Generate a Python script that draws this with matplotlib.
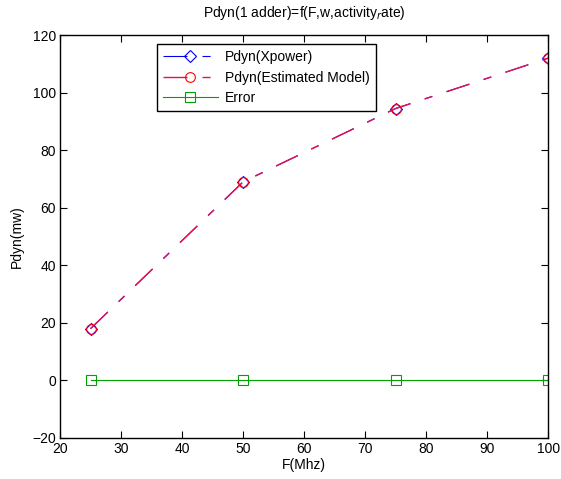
import matplotlib
matplotlib.use("Agg")
import matplotlib.pyplot as plt

freq = [25, 50, 75, 100]
pdyn_xpower = [18, 69, 94.5, 112]
pdyn_model = [18, 69, 94.5, 112]
error = [0, 0, 0, 0]
xticks = [20, 30, 40, 50, 60, 70, 80, 90, 100]
yticks = [-20, 0, 20, 40, 60, 80, 100, 120]

plt.rcParams['font.family'] = ['Liberation Sans', 'DejaVu Sans']
plt.rcParams['font.size'] = 10
plt.rcParams['lines.scale_dashes'] = False

fig = plt.figure(figsize=(5.61, 4.79), dpi=100)
ax = fig.add_axes([0.107, 0.0856, 0.870, 0.841])

dashdot = (0, (17.3, 10.8, 5.8, 10.8))
ax.plot(freq, pdyn_xpower, color='blue', linestyle=dashdot, linewidth=0.8,
        marker='D', markersize=6, markerfacecolor='none', markeredgecolor='blue',
        markeredgewidth=0.8, label='Pdyn(Xpower)')
ax.plot(freq, pdyn_model, color='#e8104a', linestyle=dashdot, linewidth=1.0,
        marker='o', markersize=7, markerfacecolor='none', markeredgecolor='red',
        markeredgewidth=0.8, label='Pdyn(Estimated Model)')
ax.plot(freq, error, color='#00a000', linestyle='-', linewidth=0.8,
        marker='s', markersize=7, markerfacecolor='none', markeredgecolor='#00a000',
        markeredgewidth=0.8, label='Error')

ax.set_xlim(20, 100)
ax.set_ylim(-20, 120)
ax.set_xticks(xticks)
ax.set_yticks(yticks)
ax.tick_params(direction='in', length=5, labelsize=10, top=True, right=True, pad=3)
for s in ax.spines.values():
    s.set_linewidth(1.0)

ax.set_xlabel('F(Mhz)', fontsize=10, labelpad=1)
ax.set_ylabel('Pdyn(mw)', fontsize=10, labelpad=6)
ax.set_title('Pdyn(1 adder)=f(F,w,activity$_r$ate)', fontsize=10, pad=13)

leg = ax.legend(loc='upper left', bbox_to_anchor=(0.199, 0.978), borderaxespad=0,
                fontsize=10, frameon=True, fancybox=False, edgecolor='black',
                framealpha=1, handlelength=3.9, borderpad=0.45, labelspacing=0.45,
                handletextpad=0.5)
leg.get_frame().set_linewidth(1.0)

fig.savefig('out.png', dpi=100)
